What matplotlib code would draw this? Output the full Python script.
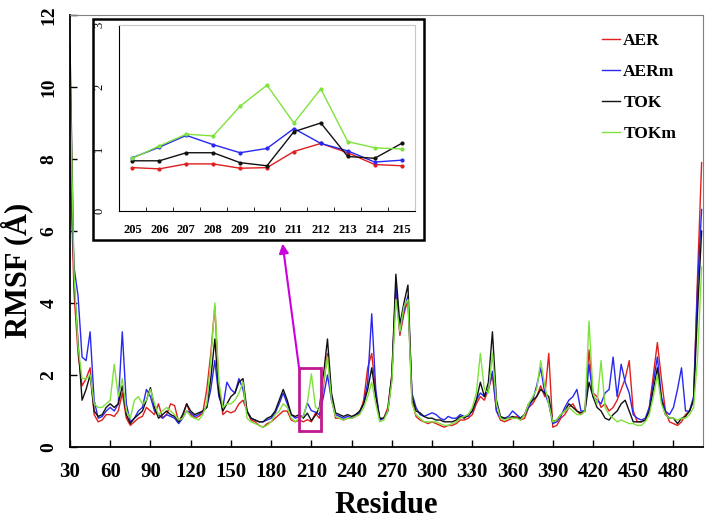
import numpy as np
import matplotlib
matplotlib.use('Agg')
import matplotlib.pyplot as plt
from matplotlib.patches import Rectangle

# residues sampled every 3 (30 .. 501)
residue = np.arange(30, 502, 3)

AER = [8.1, 4.3, 2.6, 1.7, 1.9, 2.2, 0.9, 0.7, 0.75, 0.9,
       0.9, 0.85, 1.0, 1.5, 0.8, 0.6, 0.7, 0.8, 0.85, 1.1,
       1.0, 0.9, 1.2, 0.8, 0.9, 1.2, 1.15, 0.7, 0.85, 1.2,
       0.9, 0.8, 0.85, 0.95, 1.6, 2.6, 3.9, 1.7, 0.9, 1.0,
       0.95, 1.0, 1.2, 1.3, 1.0, 0.75, 0.7, 0.6, 0.55, 0.65,
       0.7, 0.8, 0.9, 1.0, 1.0, 0.75, 0.7, 0.75, 0.7, 0.76,
       0.70, 0.94, 0.8, 1.7, 2.6, 1.4, 0.8, 0.8, 0.75, 0.8,
       0.8, 0.85, 0.95, 1.3, 2.2, 2.6, 1.5, 0.75, 0.8, 1.1,
       2.0, 4.4, 3.1, 3.7, 4.1, 1.3, 0.85, 0.75, 0.7, 0.65,
       0.7, 0.65, 0.6, 0.55, 0.6, 0.6, 0.65, 0.75, 0.75, 0.8,
       0.9, 1.2, 1.4, 1.3, 1.6, 2.0, 1.0, 0.75, 0.7, 0.75,
       0.8, 0.85, 0.75, 0.8, 1.1, 1.2, 1.4, 1.7, 1.4, 2.6,
       0.55, 0.6, 0.8, 0.9, 1.1, 1.2, 1.0, 0.9, 1.0, 2.7,
       1.5, 1.4, 1.1, 1.2, 1.0, 1.1, 1.3, 1.6, 1.9, 2.4,
       1.0, 0.7, 0.7, 0.75, 1.1, 2.0, 2.9, 1.9, 1.0, 0.7,
       0.65, 0.6, 0.7, 0.9, 1.0, 1.3, 4.8, 7.9]

AERm = [7.8, 5.0, 4.2, 2.5, 2.4, 3.2, 1.3, 0.8, 0.85, 1.0,
        1.1, 1.0, 1.2, 3.2, 1.2, 0.7, 0.8, 1.0, 1.1, 1.6,
        1.4, 1.0, 0.9, 0.8, 0.9, 0.85, 0.8, 0.65, 0.8, 1.0,
        0.95, 0.85, 0.9, 1.0, 1.1, 1.6, 2.4, 1.4, 1.1, 1.8,
        1.6, 1.5, 1.9, 1.6, 1.0, 0.8, 0.75, 0.7, 0.7, 0.75,
        0.8, 0.95, 1.2, 1.5, 1.2, 0.9, 0.8, 0.85, 0.85, 1.22,
        1.01, 0.97, 0.9, 1.4, 2.0, 1.3, 0.9, 0.85, 0.8, 0.85,
        0.8, 0.9, 0.95, 1.2, 1.8, 3.7, 1.6, 0.75, 0.8, 1.0,
        1.9, 4.5, 3.2, 3.8, 4.2, 1.5, 1.1, 0.9, 0.85, 0.9,
        0.95, 0.9, 0.8, 0.75, 0.85, 0.8, 0.8, 0.9, 0.85, 0.85,
        1.0, 1.3, 1.5, 1.4, 1.6, 2.1, 1.0, 0.8, 0.8, 0.85,
        1.0, 0.9, 0.8, 0.9, 1.1, 1.3, 1.7, 2.2, 1.5, 1.2,
        0.65, 0.7, 0.85, 1.1, 1.3, 1.4, 1.6, 1.0, 1.0, 2.3,
        1.4, 1.3, 1.2, 1.5, 1.6, 2.5, 1.4, 2.3, 1.8, 1.5,
        0.9, 0.8, 0.75, 0.8, 1.1, 1.8, 2.5, 1.4, 1.0, 0.9,
        1.1, 1.6, 2.2, 1.0, 1.0, 1.4, 4.5, 6.6]

TOK = [11.2, 4.6, 2.9, 1.3, 1.6, 2.0, 1.0, 0.85, 0.9, 1.1,
       1.2, 1.1, 1.2, 1.7, 0.9, 0.65, 0.8, 0.9, 1.0, 1.3,
       1.65, 1.1, 0.8, 0.9, 1.0, 0.9, 0.85, 0.7, 0.9, 1.2,
       1.0, 0.9, 0.95, 1.0, 1.1, 1.9, 3.0, 1.5, 1.0, 1.2,
       1.4, 1.5, 1.8, 1.9, 1.0, 0.8, 0.75, 0.7, 0.7, 0.8,
       0.85, 1.0, 1.3, 1.6, 1.3, 0.9, 0.85, 0.9, 0.8, 0.94,
       0.73, 0.88, 1.1, 2.0, 3.0, 1.5, 0.95, 0.9, 0.85, 0.9,
       0.85, 0.9, 1.0, 1.2, 1.6, 2.2, 1.4, 0.8, 0.8, 1.0,
       2.0, 4.8, 3.4, 4.0, 4.5, 1.4, 1.0, 0.95, 0.85, 0.8,
       0.8, 0.75, 0.75, 0.7, 0.7, 0.7, 0.75, 0.85, 0.8, 0.9,
       1.0, 1.3, 1.8, 1.4, 1.8, 3.2, 1.3, 0.85, 0.8, 0.8,
       0.85, 0.8, 0.8, 0.9, 1.2, 1.3, 1.4, 1.6, 1.5, 1.4,
       0.7, 0.75, 0.9, 1.0, 1.2, 1.1, 1.0, 0.95, 1.0, 1.8,
       1.4, 1.1, 1.0, 0.8, 0.75, 0.9, 1.0, 1.2, 1.3, 1.0,
       0.7, 0.7, 0.7, 0.75, 1.0, 1.6, 2.2, 1.3, 0.9, 0.8,
       0.8, 0.65, 0.8, 0.85, 1.0, 1.3, 3.8, 6.0]

TOKm = [10.3, 4.8, 2.8, 1.9, 1.9, 2.0, 1.2, 1.1, 1.1, 1.2,
        1.3, 2.3, 1.4, 1.9, 1.0, 0.8, 1.3, 1.4, 1.2, 1.3,
        1.6, 1.2, 0.9, 1.0, 1.1, 1.0, 0.9, 0.75, 0.8, 1.0,
        0.85, 0.8, 0.75, 0.9, 1.2, 2.4, 4.0, 1.8, 1.1, 1.2,
        1.2, 1.3, 1.5, 1.8, 0.8, 0.7, 0.65, 0.6, 0.55, 0.6,
        0.7, 0.9, 1.0, 1.2, 1.1, 0.8, 0.7, 0.8, 0.85, 1.24,
        2.03, 1.12, 1.0, 1.8, 2.5, 1.3, 0.85, 0.8, 0.75, 0.8,
        0.8, 0.85, 0.9, 1.1, 1.4, 1.8, 1.2, 0.7, 0.75, 1.0,
        1.8, 4.1, 3.2, 3.9, 4.1, 1.2, 0.9, 0.8, 0.7, 0.7,
        0.7, 0.7, 0.65, 0.6, 0.6, 0.65, 0.7, 0.8, 0.85, 0.9,
        1.1, 1.5, 2.6, 1.6, 1.5, 2.6, 1.2, 0.8, 0.75, 0.8,
        0.8, 0.8, 0.75, 0.9, 1.2, 1.4, 1.6, 2.4, 1.7, 1.2,
        0.7, 0.75, 0.9, 1.0, 1.1, 1.0, 0.9, 0.9, 1.0, 3.5,
        1.5, 1.2, 2.4, 1.1, 0.9, 0.8, 0.7, 0.75, 0.7, 0.65,
        0.65, 0.6, 0.6, 0.7, 0.9, 1.4, 2.0, 1.2, 0.9, 0.8,
        0.8, 0.75, 0.8, 0.8, 0.9, 1.1, 2.5, 5.0]

# zoomed region 205-215
inset_res = [205, 206, 207, 208, 209, 210, 211, 212, 213, 214, 215]
inset_AER = [0.70, 0.68, 0.76, 0.76, 0.69, 0.70, 0.96, 1.09, 0.94, 0.75, 0.73]
inset_AERm = [0.86, 1.03, 1.22, 1.07, 0.94, 1.01, 1.33, 1.09, 0.97, 0.79, 0.82]
inset_TOK = [0.81, 0.81, 0.94, 0.94, 0.78, 0.73, 1.28, 1.42, 0.88, 0.85, 1.09]
inset_TOKm = [0.85, 1.05, 1.24, 1.21, 1.69, 2.03, 1.42, 1.97, 1.12, 1.02, 1.00]

names = ['AER', 'AERm', 'TOK', 'TOKm']
colors = ['#e01e1e', '#2828f0', '#111111', '#7ee23c']

serif = 'Liberation Serif'

fig = plt.figure(figsize=(7.07, 5.19), dpi=100)
ax = fig.add_axes([0.099, 0.1387, 0.8953, 0.8324])

for vals, name, c in zip([AER, AERm, TOK, TOKm], names, colors):
    ax.plot(residue, vals, color=c, lw=1.0, label=name)

ax.set_xlim(30, 502)
ax.set_ylim(0, 12)
ax.set_xticks(range(30, 481, 30))
ax.set_yticks(range(0, 13, 2))
ax.tick_params(direction='in', length=5, width=1)
ax.tick_params(axis='x', pad=11, labelsize=15)
ax.tick_params(axis='y', pad=9, labelrotation=90, labelsize=14)
for lab in ax.get_xticklabels() + ax.get_yticklabels():
    lab.set_fontfamily(serif)
    lab.set_fontweight('bold')
for lab in ax.get_yticklabels():
    lab.set_va('center')
for s in ['left', 'bottom']:
    ax.spines[s].set_linewidth(1.3)
for s in ['top', 'right']:
    ax.spines[s].set_color('#808080')

# box around zoomed residues + arrow to inset
ax.add_patch(Rectangle((200.6, 0.45), 16.7, 1.75, fill=False,
                       edgecolor='#c01890', lw=2, zorder=5))
ax.annotate('', xy=(188.5, 5.65), xytext=(200.8, 2.2),
            arrowprops=dict(arrowstyle='-|>', color='#cc00dd', lw=1.5,
                            mutation_scale=14, shrinkA=0, shrinkB=0),
            zorder=5)

ax.legend(loc='upper left', bbox_to_anchor=(0.852, 0.936),
          bbox_transform=fig.transFigure, frameon=False, borderpad=0,
          borderaxespad=0, handlelength=1.0, handletextpad=0.2,
          labelspacing=0.85,
          prop={'family': serif, 'weight': 'bold', 'size': 12.5})

fig.text(0.0467, 0.48, 'RMSF (Å)', rotation=90, ha='right', va='center',
         fontfamily=serif, fontweight='bold', fontsize=22)
fig.text(0.546, 0.012, 'Residue', ha='center', va='baseline',
         fontfamily=serif, fontweight='bold', fontsize=22)

# inset frame and axes
fig.patches.append(Rectangle((0.1315, 0.5376), 0.4682, 0.4258,
                             transform=fig.transFigure, facecolor='white',
                             edgecolor='black', lw=1.8, zorder=1))
ins = fig.add_axes([0.1683, 0.5934, 0.4187, 0.3584])
ins.set_zorder(3)
for vals, c in zip([inset_AER, inset_AERm, inset_TOK, inset_TOKm], colors):
    ins.plot(inset_res, vals, color=c, lw=1.0, marker='o', ms=2)
ins.set_xlim(204.5, 215.5)
ins.set_ylim(0, 3)
ins.set_xticks(inset_res)
ins.set_xticks(np.arange(205.5, 215, 1), minor=True)
ins.set_yticks([0, 1, 2, 3])
ins.tick_params(axis='x', which='major', length=0, pad=9)
ins.tick_params(axis='x', which='minor', direction='in', length=3)
ins.tick_params(axis='y', length=0, pad=10, labelrotation=90)
for lab in ins.get_xticklabels():
    lab.set_fontfamily(serif)
    lab.set_fontweight('bold')
    lab.set_fontsize(9)
for lab in ins.get_yticklabels():
    lab.set_fontfamily(serif)
    lab.set_fontsize(9)
    lab.set_va('center')
for s in ['top', 'right']:
    ins.spines[s].set_color('#c8c8c8')

fig.savefig('out.png', dpi=100)
